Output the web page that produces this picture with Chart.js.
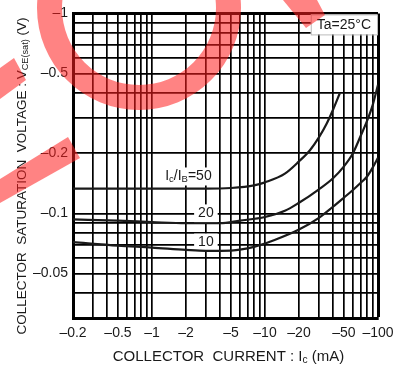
<!DOCTYPE html>
<html>
<head>
<meta charset="utf-8">
<script src="https://cdn.jsdelivr.net/npm/chart.js@4.4.0/dist/chart.umd.min.js"></script>
<style>
  html, body { margin: 0; padding: 0; background: #fff; }
  canvas { display: block; }
</style>
</head>
<body>
<canvas id="chart" width="405" height="372"></canvas>
<script>
// VCE(sat) vs IC at Ta=25C, magnitudes only (the axis labels carry the minus sign)
const ic50  = [0.2, 1, 3, 5, 8, 10, 15, 20, 25, 30, 35, 40, 46];
const vce50 = [0.133, 0.133, 0.133, 0.134, 0.138, 0.143, 0.158, 0.182, 0.207, 0.24, 0.28, 0.33, 0.40];

const ic20  = [0.2, 0.5, 1, 2, 4, 6, 10, 15, 20, 30, 40, 50, 60, 70, 80, 90, 100];
const vce20 = [0.0933, 0.092, 0.0905, 0.0893, 0.0893, 0.092, 0.096, 0.103, 0.113, 0.132, 0.150, 0.172, 0.200, 0.243, 0.29, 0.35, 0.44];

const ic10  = [0.2, 0.5, 1, 2, 3, 5, 8, 12, 20, 30, 40, 50, 60, 70, 80, 90, 100];
const vce10 = [0.0718, 0.069, 0.0675, 0.0657, 0.065, 0.0652, 0.068, 0.0734, 0.083, 0.095, 0.108, 0.12, 0.131, 0.142, 0.153, 0.17, 0.19];

// grid lines and which of them get a label
const xGrid = [0.2, 0.3, 0.4, 0.5, 0.6, 0.7, 0.8, 0.9, 1, 2, 3, 4, 5, 6, 7, 8, 9,
               10, 20, 30, 40, 50, 60, 70, 80, 90, 100];
const xLabels = [0.2, 0.5, 1, 2, 5, 10, 20, 50, 100];
const yGrid = [0.03, 0.04, 0.05, 0.06, 0.07, 0.08, 0.09, 0.1, 0.2, 0.3, 0.4, 0.5, 0.6, 0.7, 0.8, 0.9, 1];
const yLabels = [0.05, 0.1, 0.2, 0.5, 1];

// curve labels: [text parts, x (mA), y (V)]
const curveLabels = [
  [[['I'], ['c', 1], ['/I'], ['B', 1], ['=50']], 2.1, 0.153],
  [[['20']], 3.0, 0.1],
  [[['10']], 3.0, 0.0715]
];

const FONT = '"Liberation Sans", Arial, sans-serif';
const INK = '#1a1a1a';

function pts(xs, ys) {
  return xs.map((x, i) => ({ x: x, y: ys[i] }));
}

function hasValue(arr, v) {
  return arr.some(a => Math.abs(a - v) < 1e-9 * Math.max(1, a));
}

// text with subscripts, parts = [[text, isSub], ...]
function richWidth(ctx, parts, size) {
  let w = 0;
  for (const p of parts) {
    ctx.font = (p[1] ? size * 0.68 : size) + 'px ' + FONT;
    w += ctx.measureText(p[0]).width;
  }
  return w;
}
function drawRich(ctx, parts, x, y, size) {
  let cx = x;
  ctx.textBaseline = 'middle';
  ctx.textAlign = 'left';
  for (const p of parts) {
    ctx.font = (p[1] ? size * 0.68 : size) + 'px ' + FONT;
    ctx.fillText(p[0], cx, p[1] ? y + size * 0.22 : y);
    cx += ctx.measureText(p[0]).width;
  }
}

const decorPlugin = {
  id: 'decor',
  beforeDatasetsDraw(chart) {
    const ctx = chart.ctx;
    const xs = chart.scales.x, ys = chart.scales.y;
    const area = chart.chartArea;
    ctx.save();
    // curve labels on white boxes
    for (const lab of curveLabels) {
      const w = richWidth(ctx, lab[0], 14);
      const cx = xs.getPixelForValue(lab[1]);
      const cy = ys.getPixelForValue(lab[2]);
      ctx.fillStyle = '#fff';
      ctx.fillRect(cx - w / 2 - 4, cy - 9, w + 8, 18);
      ctx.fillStyle = INK;
      drawRich(ctx, lab[0], cx - w / 2, cy, 14);
    }
    // Ta box
    const tw = richWidth(ctx, [['Ta=25°C']], 14);
    const bx = area.right - tw - 13, by = area.top + 1;
    ctx.fillStyle = '#fff';
    ctx.fillRect(bx, by, tw + 12, 20);
    ctx.strokeStyle = '#bbb';
    ctx.lineWidth = 1;
    ctx.strokeRect(bx + 0.5, by + 0.5, tw + 12, 20);
    ctx.fillStyle = INK;
    drawRich(ctx, [['Ta=25°C']], bx + 6, by + 11, 14);
    ctx.restore();
  },
  afterDraw(chart) {
    const ctx = chart.ctx;
    const area = chart.chartArea;
    ctx.save();
    ctx.fillStyle = INK;
    // axis titles with subscripts
    const xt = [['COLLECTOR  CURRENT : I'], ['c', 1], [' (mA)']];
    const xw = richWidth(ctx, xt, 15);
    drawRich(ctx, xt, (area.left + area.right) / 2 + 3 - xw / 2, 357, 15);
    const yt = [['COLLECTOR  SATURATION  VOLTAGE : V'], ['CE(sat)', 1], [' (V)']];
    const yw = richWidth(ctx, yt, 13.5);
    ctx.translate(22, 176);
    ctx.rotate(-Math.PI / 2);
    drawRich(ctx, yt, -yw / 2, 0, 13.5);
    ctx.restore();

    // red watermark pieces on top
    ctx.save();
    ctx.fillStyle = 'rgba(255, 30, 30, 0.55)';
    ctx.beginPath();
    ctx.arc(139, 8, 102, 0, Math.PI * 2, false);
    ctx.arc(139, 8, 77, 0, Math.PI * 2, true);
    ctx.fill();
    ctx.beginPath();
    ctx.moveTo(283, 0); ctx.lineTo(317, 0); ctx.lineTo(325, 15); ctx.lineTo(306, 28);
    ctx.closePath(); ctx.fill();
    ctx.beginPath();
    ctx.moveTo(0, 68); ctx.lineTo(14, 58); ctx.lineTo(26, 80); ctx.lineTo(0, 99);
    ctx.closePath(); ctx.fill();
    ctx.beginPath();
    ctx.moveTo(0, 179); ctx.lineTo(68, 137); ctx.lineTo(80, 158); ctx.lineTo(0, 203);
    ctx.closePath(); ctx.fill();
    ctx.restore();
  }
};

function curve(data) {
  return {
    data: data,
    borderColor: INK,
    borderWidth: 2.2,
    pointRadius: 0,
    fill: false,
    cubicInterpolationMode: 'monotone'
  };
}

new Chart(document.getElementById('chart'), {
  type: 'line',
  data: {
    datasets: [curve(pts(ic50, vce50)), curve(pts(ic20, vce20)), curve(pts(ic10, vce10))]
  },
  options: {
    responsive: false,
    devicePixelRatio: 1,
    animation: false,
    events: [],
    layout: { padding: { top: 12, right: 27, left: 0, bottom: 0 } },
    plugins: { legend: { display: false }, tooltip: { enabled: false } },
    scales: {
      x: {
        type: 'logarithmic',
        min: 0.2,
        max: 100,
        afterBuildTicks: s => { s.ticks = xGrid.map(v => ({ value: v })); },
        afterFit: s => { s.height = 54; },
        ticks: {
          autoSkip: false,
          maxRotation: 0,
          padding: 7,
          color: INK,
          font: { family: FONT, size: 14 },
          callback: v => hasValue(xLabels, v) ? '–' + v : ''
        },
        grid: {
          color: '#000',
          drawTicks: false,
          lineWidth: c => (c.tick && c.tick.value === 100) ? 3 : 1.7
        },
        border: { color: '#000', width: 3 }
      },
      y: {
        type: 'logarithmic',
        min: 0.03,
        max: 1,
        afterBuildTicks: s => { s.ticks = yGrid.map(v => ({ value: v })); },
        afterFit: s => { s.width = 73; },
        ticks: {
          autoSkip: false,
          padding: 5,
          color: INK,
          font: { family: FONT, size: 14 },
          callback: v => hasValue(yLabels, v) ? '–' + v : ''
        },
        grid: {
          color: '#000',
          drawTicks: false,
          lineWidth: c => (c.tick && c.tick.value === 1) ? 3 : 1.7
        },
        border: { color: '#000', width: 3 }
      }
    }
  },
  plugins: [decorPlugin]
});
</script>
</body>
</html>
